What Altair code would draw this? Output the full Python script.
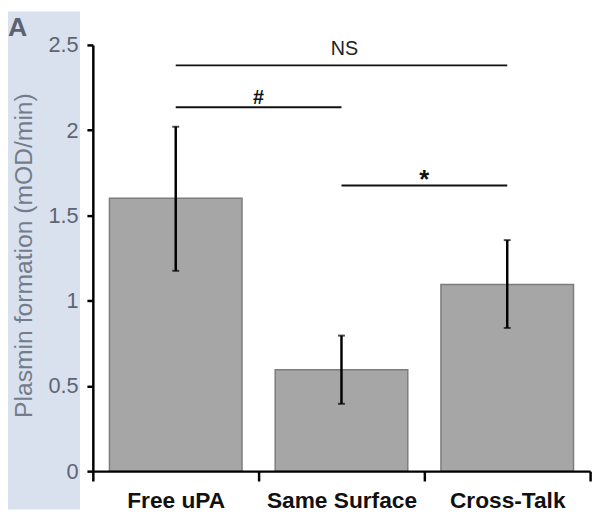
import altair as alt
import pandas as pd

categories = ["Free uPA", "Same Surface", "Cross-Talk"]
means = [1.60, 0.595, 1.095]
err_hi = [2.02, 0.795, 1.355]
err_lo = [1.175, 0.395, 0.84]

sig_labels = ["NS", "#", "*"]
sig_start = ["Free uPA", "Free uPA", "Same Surface"]
sig_end = ["Cross-Talk", "Same Surface", "Cross-Talk"]
sig_y = [2.38, 2.135, 1.675]

y_ticks = [0, 0.5, 1, 1.5, 2, 2.5]

bars = pd.DataFrame({"cat": categories, "mean": means, "hi": err_hi, "lo": err_lo})
sig = pd.DataFrame({"label": sig_labels, "start": sig_start, "end": sig_end, "y": sig_y})

FONT = "Liberation Sans"
W, H = 504, 432

x_scale = alt.Scale(domain=categories, paddingInner=0, paddingOuter=0)
y_scale = alt.Scale(domain=[0, 2.5], nice=False, zero=True)

x_axis = alt.Axis(
    title=None, labelAngle=0, labelFont=FONT, labelFontSize=23, labelFontWeight="bold",
    labelColor="#111111", labelPadding=9, tickBand="extent", tickSize=10, tickWidth=2.5,
    tickColor="#000000", domainColor="#000000", domainWidth=2.5, zindex=2,
)
y_axis = alt.Axis(
    title="Plasmin formation (mOD/min)", values=y_ticks, format="~g", grid=False,
    labelFont=FONT, labelFontSize=22, labelColor="#5d6472", labelPadding=9,
    tickSize=6, tickWidth=2.5, tickColor="#000000", domainColor="#000000", domainWidth=2.5,
    titleFont=FONT, titleFontSize=25, titleFontWeight="normal", titleColor="#737c8b",
    titleX=-70, titleY=213, titleBaseline="middle", zindex=2,
)

strip = alt.Chart(pd.DataFrame({"k": [0]})).mark_rect(color="#d9e1ee").encode(
    x=alt.value(-86), x2=alt.value(-13), y=alt.value(-34), y2=alt.value(H + 39)
)

panel = alt.Chart(pd.DataFrame({"label": ["A"]})).mark_text(
    font=FONT, fontSize=27, fontWeight="bold", color="#5b6270", align="left", baseline="alphabetic"
).encode(x=alt.value(-86), y=alt.value(-9), text="label:N")

base = alt.Chart(bars)
xenc = alt.X("cat:N", scale=x_scale, axis=x_axis, sort=categories)

bar_layer = base.mark_bar(
    fill="#a6a6a6", stroke="#7d7d7d", strokeWidth=1.5, width=alt.RelativeBandSize(0.8)
).encode(x=xenc, y=alt.Y("mean:Q", scale=y_scale, axis=y_axis))

err_rule = base.mark_rule(color="#000000", strokeWidth=2.5).encode(
    x=xenc, y=alt.Y("lo:Q", scale=y_scale, axis=y_axis), y2="hi:Q"
)
cap_hi = base.mark_tick(color="#000000", size=7, thickness=2, orient="horizontal").encode(
    x=xenc, y=alt.Y("hi:Q", scale=y_scale, axis=y_axis)
)
cap_lo = base.mark_tick(color="#000000", size=7, thickness=2, orient="horizontal").encode(
    x=xenc, y=alt.Y("lo:Q", scale=y_scale, axis=y_axis)
)

sbase = alt.Chart(sig)
sig_lines = sbase.mark_rule(color="#111111", strokeWidth=2).encode(
    x=alt.X("start:N", scale=x_scale, axis=x_axis, sort=categories),
    x2="end:N",
    y=alt.Y("y:Q", scale=y_scale, axis=y_axis),
)
ns_text = sbase.transform_filter(alt.datum.label == "NS").mark_text(
    font=FONT, fontSize=20, color="#222222", baseline="alphabetic", dy=-11, dx=3
).encode(
    x=alt.X(datum="Same Surface", scale=x_scale, axis=x_axis),
    y=alt.Y("y:Q", scale=y_scale, axis=y_axis), text="label:N",
)
hash_text = sbase.transform_filter(alt.datum.label == "#").mark_text(
    font=FONT, fontSize=20, fontWeight="bold", color="#111111", baseline="alphabetic", dy=-3
).encode(
    x=alt.X("end:N", scale=x_scale, axis=x_axis, sort=categories, bandPosition=0),
    y=alt.Y("y:Q", scale=y_scale, axis=y_axis), text="label:N",
)
star_text = sbase.transform_filter(alt.datum.label == "*").mark_text(
    font=FONT, fontSize=26, fontWeight="bold", color="#111111", baseline="alphabetic", dy=2
).encode(
    x=alt.X("end:N", scale=x_scale, axis=x_axis, sort=categories, bandPosition=0),
    y=alt.Y("y:Q", scale=y_scale, axis=y_axis), text="label:N",
)

chart = alt.layer(
    strip, bar_layer, err_rule, cap_hi, cap_lo, sig_lines, ns_text, hash_text, star_text, panel
).properties(
    width=W, height=H,
    autosize=alt.AutoSizeParams(type="none"),
    padding={"left": 86, "top": 34, "right": 8, "bottom": 39},
).configure_view(stroke=None)

chart.save("out.html", embed_options={"renderer": "svg", "actions": False})
